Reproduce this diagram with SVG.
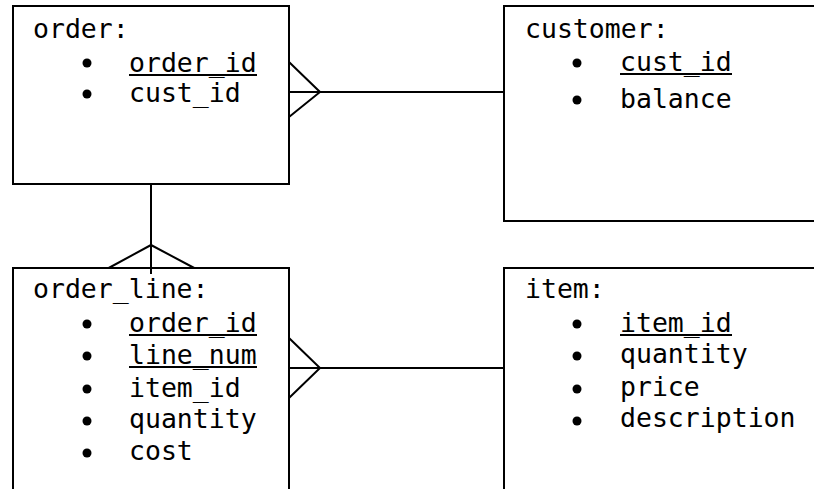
<svg xmlns="http://www.w3.org/2000/svg" width="814" height="489" viewBox="0 0 814 489">
<style>
.box{fill:#fff;stroke:#000;stroke-width:2}
.t{font-family:"DejaVu Sans Mono","Liberation Mono",monospace;font-size:26.5px;fill:#000}
.ul{stroke:#000;stroke-width:2}
.b{fill:#000}
.c{fill:none;stroke:#000;stroke-width:2}
</style>
<rect width="814" height="489" fill="#fff"/>
<g id="connectors">
<line class="c" x1="289" y1="92" x2="505" y2="92"/>
<polyline class="c" points="289,62 320,92 289,117"/>
<line class="c" x1="289" y1="368" x2="505" y2="368"/>
<polyline class="c" points="289,338 320,368 289,398"/>
<line class="c" x1="151" y1="184" x2="151" y2="274"/>
<polyline class="c" points="105,270 151,245 198,270"/>
</g>
<g id="order">
<rect class="box" x="13" y="6" width="276" height="178"/>
<text class="t" x="33" y="38">order:</text>
<circle class="b" cx="87" cy="63" r="4.5"/>
<text class="t" x="129" y="72">order_id</text>
<line class="ul" x1="129" y1="75" x2="257" y2="75"/>
<circle class="b" cx="87" cy="94" r="4.5"/>
<text class="t" x="129" y="102">cust_id</text>
</g>
<g id="customer">
<rect class="box" x="504" y="6" width="320" height="215"/>
<text class="t" x="525" y="38">customer:</text>
<circle class="b" cx="577" cy="63" r="4.5"/>
<text class="t" x="620" y="71">cust_id</text>
<line class="ul" x1="620" y1="74" x2="732" y2="74"/>
<circle class="b" cx="577" cy="100" r="4.5"/>
<text class="t" x="620" y="108">balance</text>
</g>
<g id="order_line">
<rect class="box" x="13" y="268" width="276" height="240"/>
<line class="c" x1="151" y1="262" x2="151" y2="274"/>
<text class="t" x="33" y="298">order_line:</text>
<circle class="b" cx="87" cy="324" r="4.5"/>
<text class="t" x="129" y="332">order_id</text>
<line class="ul" x1="129" y1="335" x2="257" y2="335"/>
<circle class="b" cx="87" cy="356" r="4.5"/>
<text class="t" x="129" y="364">line_num</text>
<line class="ul" x1="129" y1="367" x2="257" y2="367"/>
<circle class="b" cx="87" cy="389" r="4.5"/>
<text class="t" x="129" y="397">item_id</text>
<circle class="b" cx="87" cy="421" r="4.5"/>
<text class="t" x="129" y="428">quantity</text>
<circle class="b" cx="87" cy="453" r="4.5"/>
<text class="t" x="129" y="460">cost</text>
</g>
<g id="item">
<rect class="box" x="504" y="268" width="320" height="240"/>
<text class="t" x="525" y="298">item:</text>
<circle class="b" cx="577" cy="324" r="4.5"/>
<text class="t" x="620" y="332">item_id</text>
<line class="ul" x1="620" y1="335" x2="732" y2="335"/>
<circle class="b" cx="577" cy="356" r="4.5"/>
<text class="t" x="620" y="363">quantity</text>
<circle class="b" cx="577" cy="389" r="4.5"/>
<text class="t" x="620" y="396">price</text>
<circle class="b" cx="577" cy="421" r="4.5"/>
<text class="t" x="620" y="427">description</text>
</g>
</svg>
